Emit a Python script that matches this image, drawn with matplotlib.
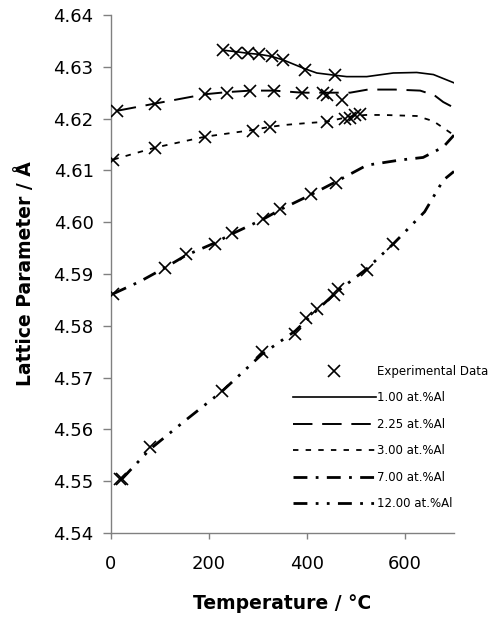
import matplotlib
matplotlib.use("Agg")
import matplotlib.pyplot as plt

plt.rcParams['font.family'] = ['DejaVu Sans']

# experimental points (temperature degC, lattice parameter A)
expT = [229, 256, 280, 303, 328, 352, 396, 457,
        12, 90, 192, 236, 284, 333, 389, 433, 440, 471,
        5, 90, 192, 289, 324, 440, 478, 488, 498, 508,
        5, 110, 153, 212, 246, 311, 345, 408, 459,
        18, 22, 80, 226, 308, 376, 399, 420, 456, 464, 522, 576]
expA = [4.6332, 4.6327, 4.6326, 4.6325, 4.6321, 4.6313, 4.6294, 4.6284,
        4.6215, 4.6228, 4.6247, 4.6250, 4.6254, 4.6254, 4.6250, 4.6249, 4.6245, 4.6236,
        4.6121, 4.6144, 4.6165, 4.6176, 4.6184, 4.6194, 4.6200, 4.6202, 4.6207, 4.6209,
        4.5862, 4.5912, 4.5938, 4.5957, 4.5979, 4.6007, 4.6025, 4.6054, 4.6075,
        4.5505, 4.5504, 4.5566, 4.5675, 4.5749, 4.5785, 4.5815, 4.5833, 4.5860, 4.5871, 4.5908, 4.5958]

# model curves
T100 = [229, 256, 280, 303, 328, 352, 396, 420, 454, 481, 522, 576, 624, 658, 700]
A100 = [4.6332, 4.6329, 4.6326, 4.6324, 4.6320, 4.6313, 4.6296, 4.6288, 4.6284, 4.6281, 4.6281, 4.6288, 4.6289, 4.6285, 4.6269]

T225 = [12, 90, 192, 236, 284, 333, 390, 440, 488, 524, 580, 631, 660, 678, 700]
A225 = [4.6215, 4.6229, 4.6247, 4.6251, 4.6254, 4.6254, 4.6250, 4.6250, 4.6250, 4.6256, 4.6256, 4.6254, 4.6245, 4.6232, 4.6221]

T300 = [5, 90, 192, 289, 324, 358, 396, 440, 474, 495, 520, 556, 624, 658, 700]
A300 = [4.6121, 4.6144, 4.6165, 4.6178, 4.6184, 4.6188, 4.6191, 4.6194, 4.6201, 4.6205, 4.6207, 4.6207, 4.6205, 4.6195, 4.6168]

T700 = [5, 60, 110, 153, 212, 246, 311, 345, 408, 459, 522, 590, 637, 678, 700]
A700 = [4.5862, 4.5886, 4.5912, 4.5936, 4.5960, 4.5977, 4.6006, 4.6024, 4.6053, 4.6078, 4.6110, 4.6120, 4.6125, 4.6145, 4.6168]

T1200 = [22, 80, 150, 226, 308, 376, 420, 460, 522, 576, 640, 678, 700]
A1200 = [4.5504, 4.5562, 4.5616, 4.5673, 4.5745, 4.5790, 4.5830, 4.5865, 4.5910, 4.5958, 4.6020, 4.6081, 4.6098]

labels = ['Experimental Data', '1.00 at.%Al', '2.25 at.%Al', '3.00 at.%Al',
          '7.00 at.%Al', '12.00 at.%Al']

fig = plt.figure(figsize=(4.99, 6.24), dpi=100)
ax = fig.add_axes([0.2224, 0.1458, 0.6874, 0.8302])

h0, = ax.plot(expT, expA, 'x', color='black', markersize=9, mew=1.2,
              linestyle='none', zorder=3)
h1, = ax.plot(T100, A100, color='black', lw=1.2, linestyle='-')
h2, = ax.plot(T225, A225, color='black', lw=1.4, dashes=(10, 5))
h3, = ax.plot(T300, A300, color='black', lw=1.3, dashes=(3, 4))
h4, = ax.plot(T700, A700, color='black', lw=2.0, dashes=(5, 3, 1, 3))
h5, = ax.plot(T1200, A1200, color='black', lw=2.0, dashes=(5, 3, 1, 3, 1, 3))

ax.set_xlim(0, 700)
ax.set_ylim(4.54, 4.64)
ax.set_xticks([0, 200, 400, 600])
ax.set_yticks([4.54 + 0.01 * i for i in range(11)])
ax.set_yticklabels(['%.2f' % (4.54 + 0.01 * i) for i in range(11)])

for s in ['top', 'right']:
    ax.spines[s].set_visible(False)
for s in ['left', 'bottom']:
    ax.spines[s].set_color('#808080')
    ax.spines[s].set_linewidth(1.0)

ax.tick_params(axis='y', direction='out', length=5.5, width=1.0,
               color='#808080', labelsize=13, pad=7)
ax.tick_params(axis='x', direction='out', length=4, width=1.0,
               color='#808080', labelsize=13, pad=12)

ax.set_xlabel('Temperature / °C', fontsize=13.5, fontweight='bold')
ax.set_ylabel('Lattice Parameter / Å', fontsize=13.5, fontweight='bold')
ax.xaxis.set_label_coords(0.5, -0.118)
ax.yaxis.set_label_coords(-0.222, 0.5)

ax.legend([h0, h1, h2, h3, h4, h5], labels, loc='upper left',
          bbox_to_anchor=(0.531, 0.3245), frameon=False, fontsize=8.5,
          handlelength=7.0, handletextpad=0.1, labelspacing=1.14,
          borderpad=0, borderaxespad=0)

fig.savefig('out.png', dpi=100)
